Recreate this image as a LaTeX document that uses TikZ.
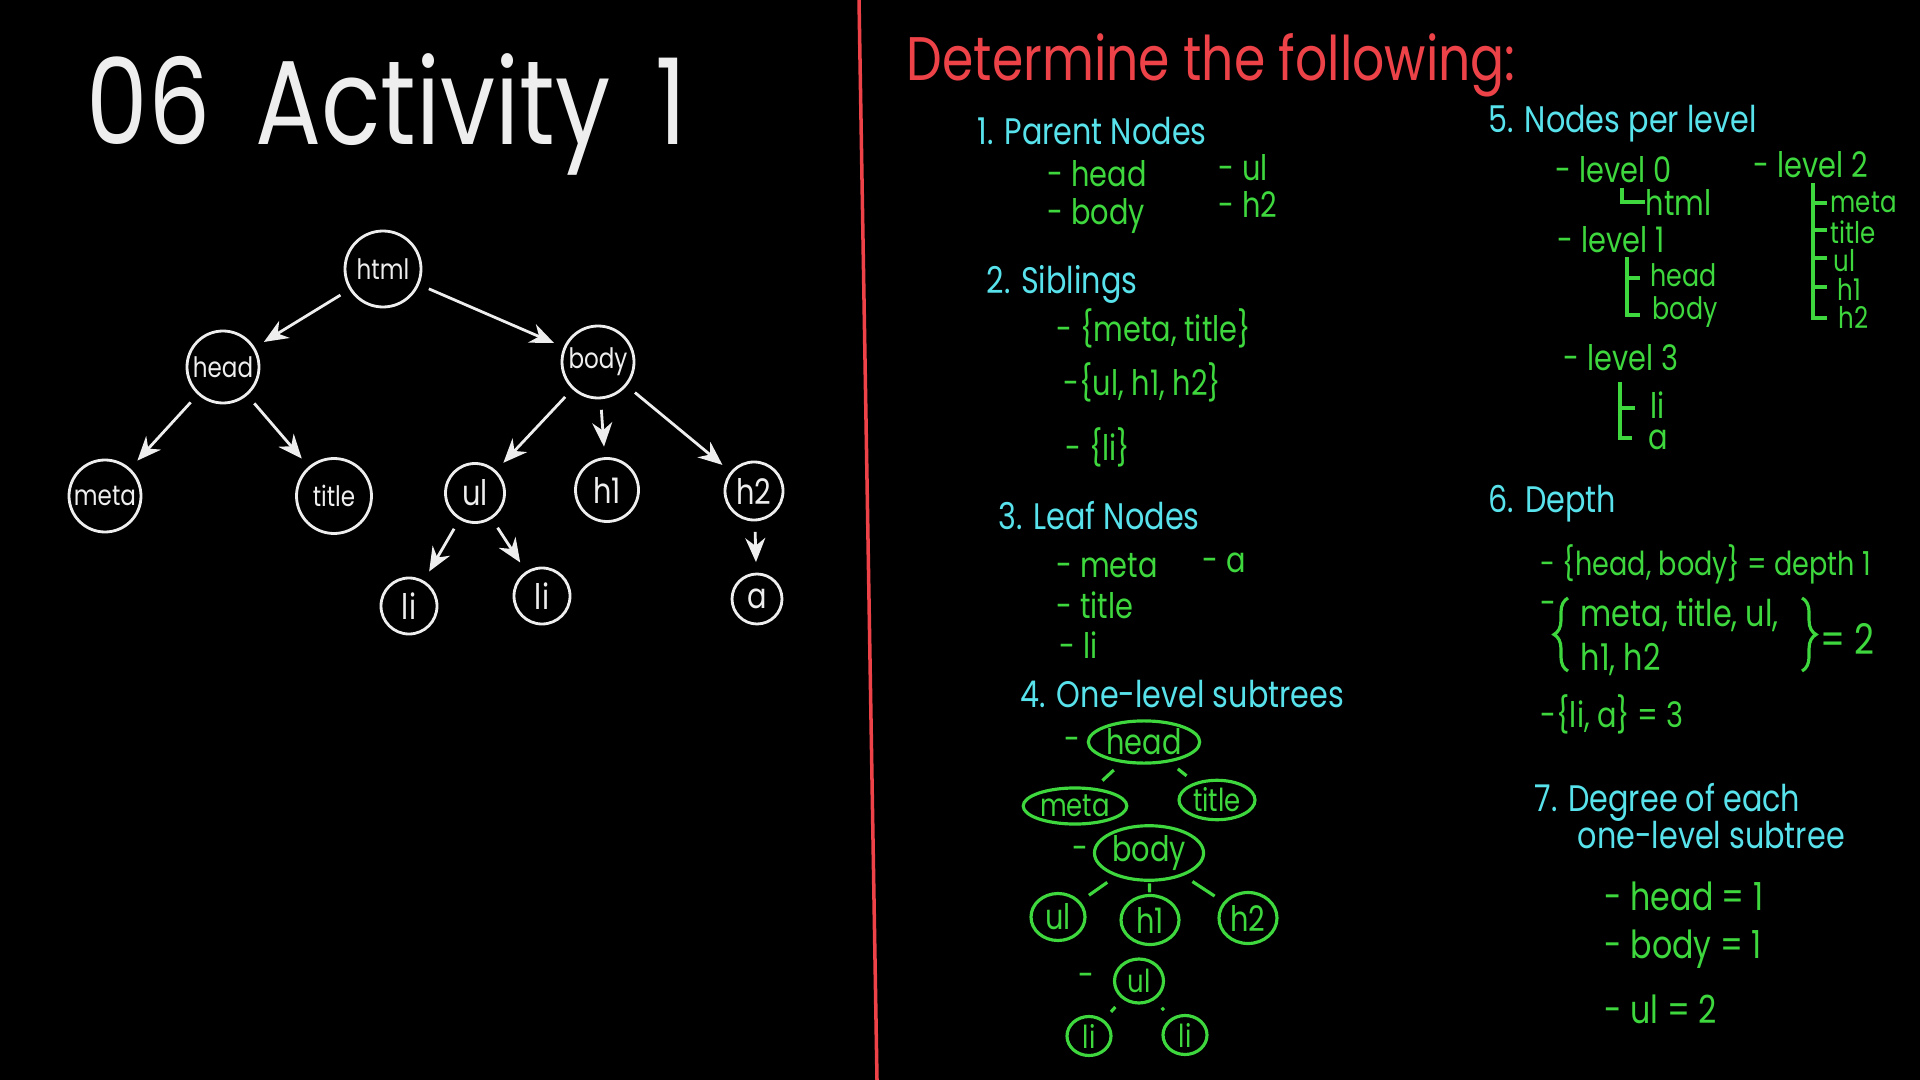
\documentclass[tikz,border=0pt]{standalone}
\usepackage{fontspec}
\setmainfont{Poppins}[FakeStretch=0.82]
\usetikzlibrary{arrows.meta,positioning,shapes.geometric,decorations.pathreplacing}
\definecolor{boardred}{RGB}{236,66,72}
\definecolor{chalkcyan}{RGB}{88,226,236}
\definecolor{chalkgreen}{RGB}{62,216,62}
\definecolor{chalkwhite}{RGB}{238,238,238}
\tikzset{
  elem/.style={circle, draw=chalkwhite, line width=0.8pt, text=chalkwhite,
    minimum size=7.2mm, inner sep=0.5pt, font=\fontsize{8}{9}\selectfont},
  leafelem/.style={elem, minimum size=5.6mm, font=\fontsize{10}{11}\selectfont},
  link/.style={-{Stealth[length=2.4mm,width=2mm]}, draw=chalkwhite, line width=0.8pt,
    shorten <=3pt, shorten >=3pt},
  heading/.style={anchor=west, text=chalkcyan, inner sep=0pt, font=\fontsize{10.5}{12}\selectfont},
  item/.style={anchor=west, text=chalkgreen, inner sep=0pt, font=\fontsize{10}{12}\selectfont},
  sub/.style={ellipse, draw=chalkgreen, line width=0.9pt, text=chalkgreen, inner sep=0.5pt,
    font=\fontsize{10}{11}\selectfont},
  twig/.style={draw=chalkgreen, line width=0.9pt, shorten <=3pt, shorten >=3pt},
  rail/.style={draw=chalkgreen, line width=0.9pt},
  curly/.style={draw=chalkgreen, line width=0.9pt, decorate, decoration={brace, amplitude=4pt}},
}
\begin{document}
\begin{tikzpicture}
  \fill[black] (0,0) rectangle (19.2,-10.8);
  \useasboundingbox (0,0) rectangle (19.2,-10.8);

  % divider
  \coordinate (divtop) at (8.59,0);
  \coordinate (divbot) at (8.77,-10.8);
  \draw[boardred, line width=1pt] (divtop) -- (divbot);

  \node[anchor=west, text=chalkwhite, inner sep=0pt, font=\fontsize{34}{36}\selectfont]
    (ttl) at (0.86,-1.14) {06\hspace{0.45cm}Activity\hspace{0.45cm}1};

  % the tree
  \node[elem, minimum size=7.6mm] (html) at (3.83,-2.69) {html};
  \node[elem] (head) at (2.23,-3.67) {head};
  \node[elem] (body) at (5.98,-3.62) {body};
  \node[elem] (meta) at (1.05,-4.96) {meta};
  \node[elem, minimum size=7.5mm] (title) at (3.34,-4.96) {title};
  \node[leafelem, minimum size=5.9mm] (ul) at (4.75,-4.93) {ul};
  \node[leafelem, minimum size=6.3mm] (hone) at (6.07,-4.90) {h1};
  \node[leafelem, minimum size=5.8mm] (htwo) at (7.54,-4.91) {h2};
  \node[leafelem] (lia) at (4.09,-6.06) {li};
  \node[leafelem] (lib) at (5.42,-5.96) {li};
  \node[leafelem, minimum size=5.0mm] (anc) at (7.57,-5.99) {a};
  \draw[link] (html) -- (head);
  \draw[link] (html) -- (body);
  \draw[link] (head) -- (meta);
  \draw[link] (head) -- (title);
  \draw[link] (body) -- (ul);
  \draw[link] (body) -- (hone);
  \draw[link] (body) -- (htwo);
  \draw[link] (ul) -- (lia);
  \draw[link] (ul) -- (lib);
  \draw[link] (htwo) -- (anc);

  \node[anchor=west, text=boardred, inner sep=0pt, font=\fontsize{17.5}{19}\selectfont]
    (ask) at (9.06,-0.65) {Determine the following:};

  % 1-4
  \node[heading] (qone) at (9.77,-1.31) {1. Parent Nodes};
  \node[item] (pa) at (10.47,-1.74) {- head};
  \node[item] (pb) at (10.47,-2.16) {- body};
  \node[item] (pc) at (12.18,-1.68) {- ul};
  \node[item] (pd) at (12.18,-2.04) {- h2};

  \node[heading] (qtwo) at (9.86,-2.84) {2. Siblings};
  \node[item] (sa) at (10.56,-3.28) {- \{meta, title\}};
  \node[item] (sb) at (10.63,-3.82) {-\{ul, h1, h2\}};
  \node[item] (sc) at (10.65,-4.47) {- \{li\}};

  \node[heading] (qthree) at (9.98,-5.16) {3. Leaf Nodes};
  \node[item] (la) at (10.56,-5.66) {- meta};
  \node[item] (lb) at (12.02,-5.63) {- a};
  \node[item] (lc) at (10.56,-6.05) {- title};
  \node[item] (ld) at (10.59,-6.45) {- li};

  \node[heading] (qfour) at (10.20,-6.94) {4. One-level subtrees};
  \node[item] (da) at (10.64,-7.44) {-};
  \node[sub, minimum width=8.8mm, minimum height=4.2mm] (shead) at (11.44,-7.42) {head};
  \node[sub, minimum width=8.1mm, minimum height=3.2mm, font=\fontsize{9}{10}\selectfont] (smeta) at (10.75,-8.06) {meta};
  \node[sub, minimum width=7.6mm, minimum height=3.7mm, font=\fontsize{9}{10}\selectfont] (stitle) at (12.17,-8.00) {title};
  \draw[twig] (shead) -- (smeta);
  \draw[twig] (shead) -- (stitle);
  \node[item] (db) at (10.72,-8.53) {-};
  \node[sub, minimum width=8.6mm, minimum height=4.6mm] (sbody) at (11.49,-8.53) {body};
  \node[sub, minimum width=5.4mm, minimum height=4.7mm] (sul) at (10.58,-9.17) {ul};
  \node[sub, minimum width=5.8mm, minimum height=4.9mm] (shone) at (11.50,-9.20) {h1};
  \node[sub, minimum width=5.8mm, minimum height=5.1mm] (shtwo) at (12.48,-9.18) {h2};
  \draw[twig] (sbody) -- (sul);
  \draw[twig] (sbody) -- (shone);
  \draw[twig] (sbody) -- (shtwo);
  \node[item] (dc) at (10.78,-9.80) {-};
  \node[sub, minimum width=4.9mm, minimum height=4.4mm, font=\fontsize{9}{10}\selectfont] (sulb) at (11.39,-9.81) {ul};
  \node[sub, minimum width=4.4mm, minimum height=3.9mm, font=\fontsize{9}{10}\selectfont] (slia) at (10.89,-10.36) {li};
  \node[sub, minimum width=4.4mm, minimum height=3.9mm, font=\fontsize{9}{10}\selectfont] (slib) at (11.85,-10.35) {li};
  \draw[twig] (sulb) -- (slia);
  \draw[twig] (sulb) -- (slib);

  % 5
  \node[heading] (qfive) at (14.88,-1.24) {5. Nodes per level};
  \node[item] (lv0) at (15.55,-1.70) {- level 0};
  \node[item] (lv0a) at (16.45,-2.02) {html};
  \draw[rail] (16.22,-1.88) |- (lv0a.west);
  \node[item] (lv1) at (15.57,-2.40) {- level 1};
  \node[item, font=\fontsize{8.8}{10}\selectfont] (lv1a) at (16.50,-2.75) {head};
  \node[item, font=\fontsize{8.8}{10}\selectfont] (lv1b) at (16.52,-3.12) {body};
  \draw[rail] (16.27,-2.57) |- (16.40,-3.15);
  \draw[rail] (16.27,-2.78) -- (16.40,-2.78);
  \node[item] (lv3) at (15.63,-3.58) {- level 3};
  \node[item] (lv3a) at (16.50,-4.05) {li};
  \node[item] (lv3b) at (16.48,-4.40) {a};
  \draw[rail] (16.20,-3.82) |- (16.32,-4.38);
  \draw[rail] (16.20,-4.08) -- (16.35,-4.08);
  \node[item] (lv2) at (17.53,-1.65) {- level 2};
  \node[item, font=\fontsize{8.5}{9}\selectfont] (lv2a) at (18.30,-2.02) {meta};
  \node[item, font=\fontsize{8.5}{9}\selectfont] (lv2b) at (18.30,-2.32) {title};
  \node[item, font=\fontsize{8.5}{9}\selectfont] (lv2c) at (18.33,-2.61) {ul};
  \node[item, font=\fontsize{8.5}{9}\selectfont] (lv2d) at (18.37,-2.89) {h1};
  \node[item, font=\fontsize{8.5}{9}\selectfont] (lv2e) at (18.38,-3.17) {h2};
  \draw[rail] (18.13,-1.83) |- (18.27,-3.18);
  \foreach \y in {-2.03,-2.30,-2.58,-2.87}
    \draw[rail] (18.13,\y) -- (18.27,\y);

  % 6
  \node[heading] (qsix) at (14.88,-5.04) {6. Depth};
  \node[item, font=\fontsize{9.4}{11}\selectfont] (dpa) at (15.40,-5.64) {- \{head, body\} = depth 1};
  \node[item] (dpb) at (15.40,-6.08) {-};
  \coordinate (lbot) at (15.68,-6.71);
  \coordinate (ltop) at (15.68,-5.98);
  \draw[curly] (lbot) -- (ltop);
  \node[item, font=\fontsize{10.5}{12}\selectfont] (dpc) at (15.80,-6.15) {meta, title, ul,};
  \node[item, font=\fontsize{10.5}{12}\selectfont] (dpd) at (15.80,-6.59) {h1, h2};
  \coordinate (rtop) at (18.02,-5.98);
  \coordinate (rbot) at (18.02,-6.71);
  \draw[curly] (rtop) -- (rbot);
  \node[item, font=\fontsize{12}{14}\selectfont] (dpe) at (18.20,-6.39) {= 2};
  \node[item] (dpf) at (15.40,-7.14) {-\{li, a\} = 3};

  % 7
  \node[heading] (qseven) at (15.34,-8.02) {7. Degree of each};
  \node[heading] (qsevenb) at (15.77,-8.35) {one-level subtree};
  \node[item, font=\fontsize{11}{13}\selectfont] (dga) at (16.04,-8.96) {- head = 1};
  \node[item, font=\fontsize{11}{13}\selectfont] (dgb) at (16.04,-9.49) {- body = 1};
  \node[item, font=\fontsize{11}{13}\selectfont] (dgc) at (16.04,-10.09) {- ul = 2};
\end{tikzpicture}
\end{document}
